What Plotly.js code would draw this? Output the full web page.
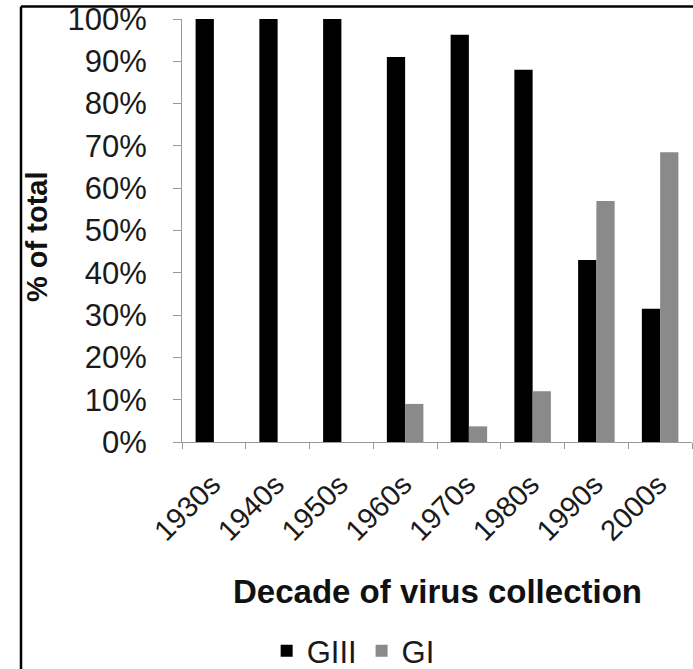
<!DOCTYPE html>
<html>
<head>
<meta charset="utf-8">
<script src="https://cdn.plot.ly/plotly-3.0.1.min.js"></script>
<style>
  html, body { margin: 0; padding: 0; background: #fff; }
  #chart { width: 693px; height: 669px; }
</style>
</head>
<body>
<div id="chart"></div>
<script>
const decades = ['1930s', '1940s', '1950s', '1960s', '1970s', '1980s', '1990s', '2000s'];
const giii = [100, 100, 100, 91, 96.3, 88, 43, 31.5];
const gi = [0, 0, 0, 9, 3.7, 12, 57, 68.5];
const seriesNames = ['GIII', 'GI'];
const yTicks = [0, 10, 20, 30, 40, 50, 60, 70, 80, 90, 100];
const yTickLabels = ['0%', '10%', '20%', '30%', '40%', '50%', '60%', '70%', '80%', '90%', '100%'];
const xTitle = 'Decade of virus collection';
const yTitle = '% of total';

const font = "'Liberation Sans', Arial, Helvetica, sans-serif";

const traces = [
  { type: 'bar', name: seriesNames[0], x: decades, y: giii, marker: { color: '#000000' } },
  { type: 'bar', name: seriesNames[1], x: decades, y: gi, marker: { color: '#8a8a8a' } }
];

const L = 182, T = 19, W = 510, H = 423;
const px = v => (v - L) / W;
const py = v => (T + H - v) / H;

const layout = {
  width: 693,
  height: 669,
  margin: { l: 182, r: 1, t: 19, b: 227, pad: 0, autoexpand: false },
  paper_bgcolor: '#ffffff',
  plot_bgcolor: '#ffffff',
  font: { family: font, color: '#1a1a1a', size: 31 },
  barmode: 'group',
  bargap: 0.427,
  bargroupgap: 0,
  showlegend: true,
  legend: {
    orientation: 'h',
    x: 0.166, xanchor: 'left',
    y: py(651), yanchor: 'middle',
    bgcolor: 'rgba(0,0,0,0)',
    font: { family: font, size: 31, color: '#1a1a1a' },
    itemclick: false,
    tracegroupgap: 0
  },
  xaxis: {
    type: 'category',
    range: [-0.5, 7.5],
    tickangle: -45,
    ticks: 'outside',
    tickson: 'boundaries',
    ticklen: 6,
    tickcolor: '#999999',
    showline: true,
    linecolor: '#999999',
    linewidth: 1,
    showgrid: false,
    zeroline: false,
    tickfont: { family: font, size: 29, color: '#1a1a1a' },
    ticklabelstandoff: 13,
    ticklabelshift: -2,
    automargin: false
  },
  yaxis: {
    range: [0, 100],
    tickmode: 'array',
    tickvals: yTicks,
    ticktext: yTickLabels,
    ticks: 'outside',
    ticklen: 8,
    tickcolor: '#999999',
    showline: true,
    linecolor: '#999999',
    linewidth: 1,
    showgrid: false,
    zeroline: false,
    tickfont: { family: font, size: 31, color: '#1a1a1a' },
    ticklabelstandoff: 20,
    automargin: false
  },
  annotations: [
    { xref: 'paper', yref: 'paper', x: px(437), y: py(591),
      xanchor: 'center', yanchor: 'middle', showarrow: false,
      text: '<b>' + xTitle + '</b>',
      font: { family: font, size: 33, color: '#111111' } },
    { xref: 'paper', yref: 'paper', x: px(37), y: py(237),
      xanchor: 'center', yanchor: 'middle', showarrow: false, textangle: -90,
      text: '<b>' + yTitle + '</b>',
      font: { family: font, size: 29, color: '#111111' } }
  ],
  shapes: [
    { type: 'line', xref: 'paper', yref: 'paper',
      x0: px(21), x1: px(693), y0: py(6.5), y1: py(6.5),
      line: { color: '#000000', width: 2.5 } },
    { type: 'line', xref: 'paper', yref: 'paper',
      x0: px(21), x1: px(21), y0: py(6.5), y1: py(669),
      line: { color: '#000000', width: 2.5 } }
  ]
};

Plotly.newPlot('chart', traces, layout, { staticPlot: true, displayModeBar: false });
</script>
</body>
</html>
